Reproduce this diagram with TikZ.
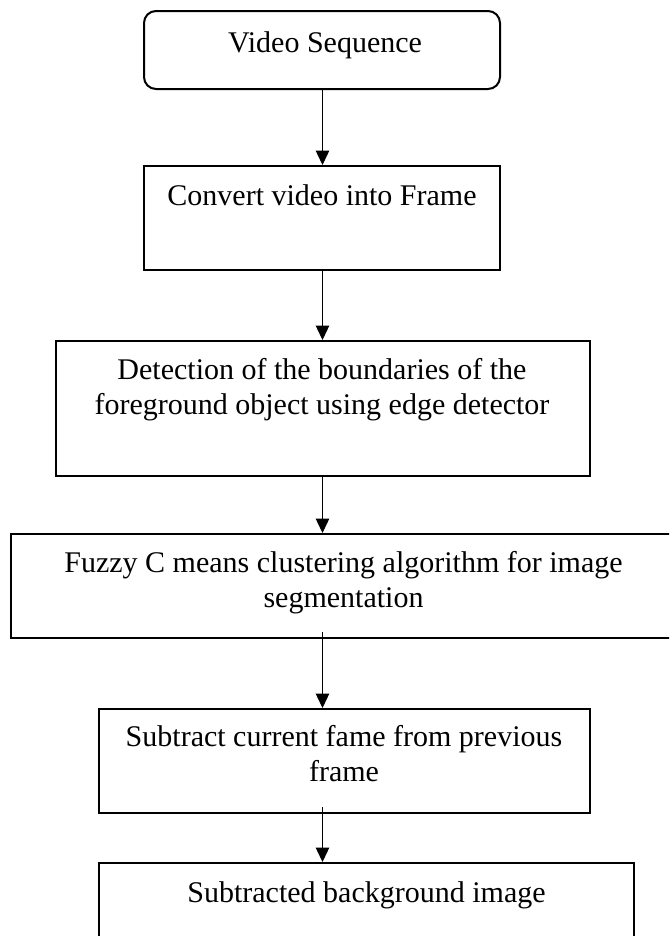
\documentclass[tikz,border=0pt]{standalone}
\usepackage{fontspec}
\setmainfont{Liberation Serif}
\usetikzlibrary{arrows.meta,fit}

\begin{document}
\begin{tikzpicture}[x=0.4pt,y=-0.4pt,
 box/.style={draw,line width=0.8pt,inner sep=0pt},
 txt/.style={anchor=base,align=center,inner sep=0pt,font=\fontsize{12}{14}\selectfont},
 flow/.style={-{Triangle[length=5.8pt,width=5.4pt]},line width=0.55pt}]
 \useasboundingbox (0,0) rectangle (669,936);
 \clip (0,0) rectangle (669,936);
 \coordinate (col) at (322.5,0);
 % boxes
 \node[box,rounded corners=4.8pt,fit={(144,11) (500,89)}] (video) {};
 \node[box,fit={(144,166) (500,270)}] (conv) {};
 \node[box,fit={(55.5,341) (590,476)}] (det) {};
 \node[box,fit={(11,534) (677,638)}] (fuzzy) {};
 \node[box,fit={(99.4,709) (590,813)}] (sub) {};
 \node[box,fit={(99.4,863) (634,967)}] (bg) {};
 % texts (base = last line)
 \node[txt] (videotxt) at (325,52) {Video Sequence};
 \node[txt] (convtxt) at (322,205) {Convert video into Frame};
 \node[txt] (dettxt) at (322,414) {Detection of the boundaries of the\\foreground object using edge detector};
 \node[txt] (fuzzytxt) at (343.5,607) {Fuzzy C means clustering algorithm for image\\segmentation};
 \node[txt] (subtxt) at (344,781) {Subtract current fame from previous\\frame};
 \node[txt] (bgtxt) at (366.5,902) {Subtracted background image};
 % arrows
 \draw[flow] (col |- video.south) -- (col |- conv.north);
 \draw[flow] (col |- conv.south) -- (col |- det.north);
 \draw[flow] (col |- det.south) -- (col |- fuzzy.north);
 \draw[flow] (col |- fuzzy.south) ++(0,-7) -- (col |- sub.north);
 \draw[flow] (col |- sub.south) ++(0,-7) -- (col |- bg.north);
\end{tikzpicture}
\end{document}
